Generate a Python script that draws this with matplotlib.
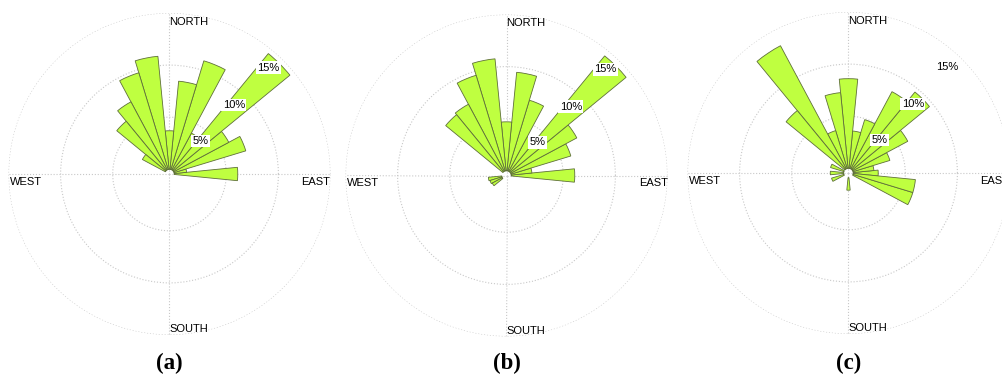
import matplotlib
matplotlib.use('Agg')
import matplotlib.pyplot as plt
import numpy as np

plt.rcParams['font.family'] = ['Liberation Sans', 'DejaVu Sans']

# 32 direction sectors, counted counterclockwise from east (11.25 deg each)
directions = np.arange(32) * 11.25

# frequency (%) per sector
freq_a = [6.1, 1.2, 7.2, 6.0, 14.5, 4.0, 10.9, 8.5, 3.7, 10.9, 9.7, 7.4, 6.1, 2.5, 0, 0,
          0, 0, 0, 0, 0, 0, 0, 0, 0, 0, 0, 0, 0, 0, 0, 0]
freq_b = [6.1, 2.0, 6.0, 7.2, 14.4, 3.8, 7.1, 9.5, 4.7, 10.8, 9.6, 7.3, 7.1, 0, 0, 0,
          0, 1.3, 1.2, 1.1, 0, 0, 0, 0, 0, 0, 0, 0, 0, 0, 0, 0]
freq_c = [2.4, 2.0, 3.7, 6.0, 9.6, 8.4, 4.9, 3.6, 8.6, 7.3, 3.8, 13.4, 7.3, 0, 1.35, 0,
          1.3, 0, 1.25, 0, 0, 0, 0, 0, 1.2, 0, 0, 0, 0, 0, 6.0, 6.0]

ring_values = [5, 10, 15]
ring_labels = ['5%', '10%', '15%']
ring_label_pos = [3.9, 8.6, 13.5]
compass = ['EAST', 'NORTH', 'WEST', 'SOUTH']
panel_tags = ['(a)', '(b)', '(c)']

W, H = 1003, 374
R = 161  # pixel radius of the 15% ring
centers = [(169.5, 174), (506.5, 175.5), (848.5, 173)]

fig = plt.figure(figsize=(W / 100, H / 100), dpi=100)

for freq, tag, (cx, cy) in zip([freq_a, freq_b, freq_c], panel_tags, centers):
    ax = fig.add_axes([(cx - R) / W, (H - cy - R) / H, 2 * R / W, 2 * R / H],
                      projection='polar')
    ax.set_ylim(-0.45, 15)

    # only sectors that actually have wind
    freq = np.asarray(freq, dtype=float)
    keep = freq > 0
    ax.bar(np.deg2rad(directions[keep]), freq[keep], width=np.deg2rad(11.25), bottom=0,
           color='#bfff40', edgecolor='#5f6f3a', linewidth=0.6, zorder=2)

    ax.set_rgrids(ring_values, labels=[''] * 3)
    ax.set_thetagrids([0, 90, 180, 270], labels=[''] * 4)
    ax.grid(True, color='#c8c8c8', linestyle=':', linewidth=0.8)
    ax.set_axisbelow(True)
    ax.spines['polar'].set_visible(False)

    # ring labels on a white box
    for rv, lab in zip(ring_label_pos, ring_labels):
        ax.text(np.deg2rad(47), rv, lab, ha='center', va='center', fontsize=8,
                zorder=4, bbox=dict(facecolor='white', edgecolor='none', pad=1))

    # compass names
    kw = dict(textcoords='offset pixels', fontsize=8, annotation_clip=False)
    ax.annotate(compass[0], (0, 15), xytext=(0, -3), ha='right', va='top', **kw)
    ax.annotate(compass[1], (np.pi / 2, 15), xytext=(0, -4), ha='left', va='top', **kw)
    ax.annotate(compass[2], (np.pi, 15), xytext=(1, -3), ha='left', va='top', **kw)
    ax.annotate(compass[3], (3 * np.pi / 2, 15), xytext=(0, 1), ha='left', va='bottom', **kw)

    fig.text(cx / W, 1 - 363 / H, tag, ha='center', va='center',
             fontfamily='Liberation Serif', fontweight='bold', fontsize=16.5)

fig.savefig('out.png', dpi=100)
